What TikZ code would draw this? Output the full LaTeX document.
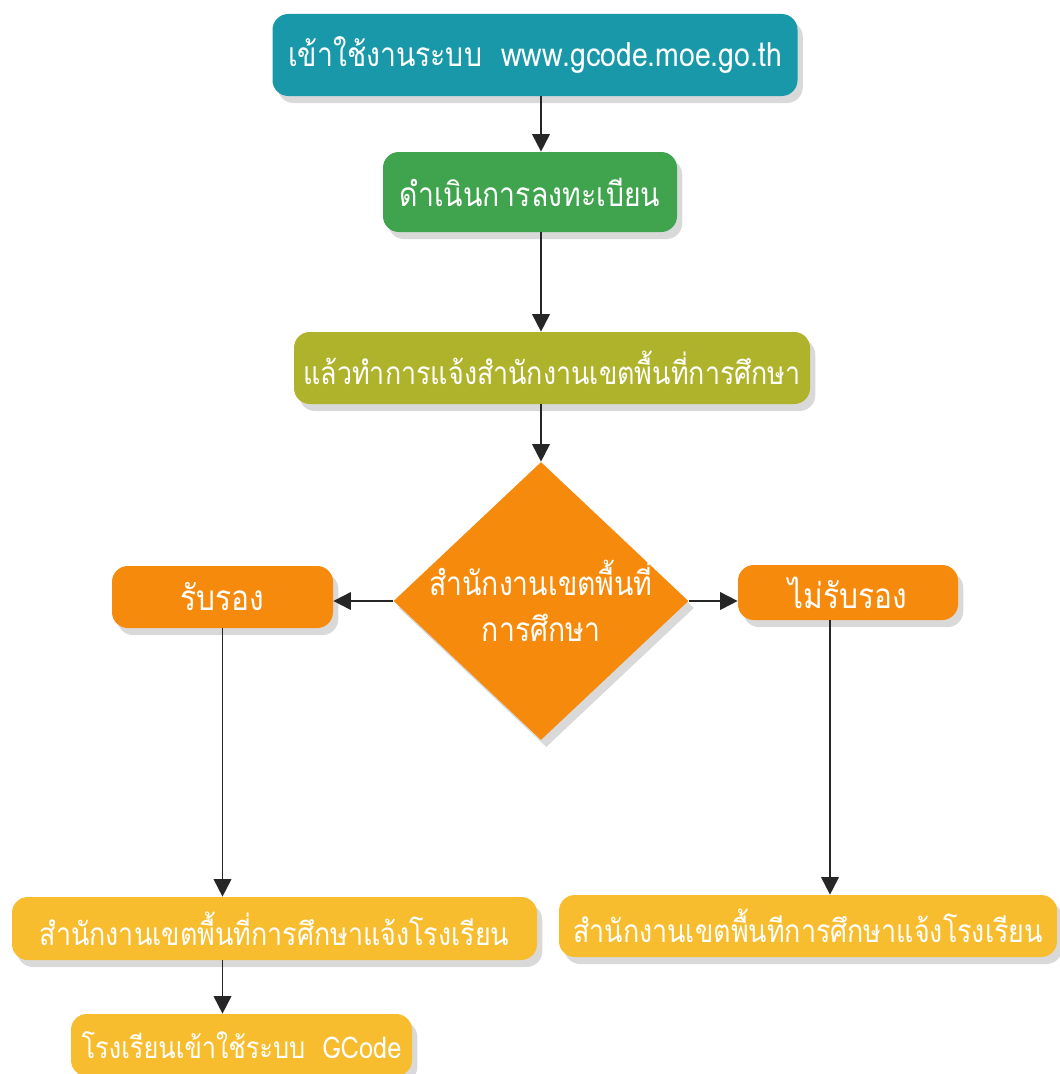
\documentclass[tikz,border=0pt]{standalone}
\usepackage{fontspec}
\newfontfamily\thaifont[Script=Thai,FakeStretch=0.85]{Loma}
\usepackage{xcolor}
\usetikzlibrary{positioning,arrows.meta,shapes.geometric,shadows}
\definecolor{tealbox}{HTML}{1898A8}
\definecolor{greenbox}{HTML}{40A44E}
\definecolor{olivebox}{HTML}{AFB22B}
\definecolor{orangebox}{HTML}{F68A0C}
\definecolor{yellowbox}{HTML}{F8BD2E}
\tikzset{
  box/.style={rounded corners=9pt, text=white, inner sep=0pt,
    font=\thaifont\fontsize{18}{22}\selectfont,
    drop shadow={opacity=0.3, shadow xshift=3pt, shadow yshift=-4pt}},
  dec/.style={diamond, fill=orangebox, text=white, align=center, inner sep=-0.6cm,
    minimum width=5.9cm, minimum height=5.56cm,
    font=\thaifont\fontsize{19}{26}\selectfont,
    drop shadow={opacity=0.3, shadow xshift=3pt, shadow yshift=-4pt}},
  arr/.style={draw=black!85, line width=1.1pt, -{Triangle[length=10pt,width=10pt]}}
}
\begin{document}
\begin{tikzpicture}
  \useasboundingbox (0,0) rectangle (21.18,-21.48);
  \node[box, fill=tealbox, minimum width=10.5cm, minimum height=1.64cm, font=\thaifont\fontsize{19}{22}\selectfont] (b1) at (10.70,-1.10) {เข้าใช้งานระบบ\ \ www.gcode.moe.go.th};
  \node[box, fill=greenbox, minimum width=5.88cm, minimum height=1.6cm, font=\thaifont\fontsize{19}{22}\selectfont] (b2) at (10.60,-3.84) {ดำเนินการลงทะเบียน};
  \node[box, fill=olivebox, minimum width=10.32cm, minimum height=1.44cm] (b3) at (11.04,-7.36) {แล้วทำการแจ้งสำนักงานเขตพื้นที่การศึกษา};
  \node[dec] (dm) at (10.82,-12.02) {สำนักงานเขตพื้นที่\\การศึกษา};
  \node[box, fill=orangebox, minimum width=4.42cm, minimum height=1.24cm, font=\thaifont\fontsize{20}{22}\selectfont] (ok) at (4.45,-11.94) {รับรอง};
  \node[box, fill=orangebox, minimum width=4.4cm, minimum height=1.1cm, font=\thaifont\fontsize{20}{22}\selectfont] (nok) at (16.96,-11.85) {ไม่รับรอง};
  \node[box, fill=yellowbox, minimum width=10.5cm, minimum height=1.26cm] (n1) at (5.49,-18.57) {สำนักงานเขตพื้นที่การศึกษาแจ้งโรงเรียน};
  \node[box, fill=yellowbox, minimum width=9.96cm, minimum height=1.24cm] (n2) at (16.16,-18.52) {สำนักงานเขตพื้นทีการศึกษาแจ้งโรงเรียน};
  \node[box, fill=yellowbox, minimum width=6.82cm, minimum height=1.24cm, font=\thaifont\fontsize{17}{22}\selectfont] (gc) at (4.83,-20.90) {โรงเรียนเข้าใช้ระบบ\ \ GCode};
  % main line
  \draw[arr] (b1.south -| dm.north) -- (b2.north -| dm.north);
  \draw[arr] (b2.south -| dm.north) -- (b3.north -| dm.north);
  \draw[arr] (b3.south -| dm.north) -- (dm.north);
  % branches
  \draw[arr] (dm.west) -- (ok.east |- dm.west);
  \draw[arr] (dm.east) -- (nok.west |- dm.east);
  \draw[arr] (ok.south) -- (ok.south |- n1.north);
  \draw[arr] ([xshift=-0.36cm]nok.south) -- ([xshift=-0.36cm]nok.south |- n2.north);
  \draw[arr] (n1.south -| ok.south) -- (gc.north -| ok.south);
\end{tikzpicture}
\end{document}
